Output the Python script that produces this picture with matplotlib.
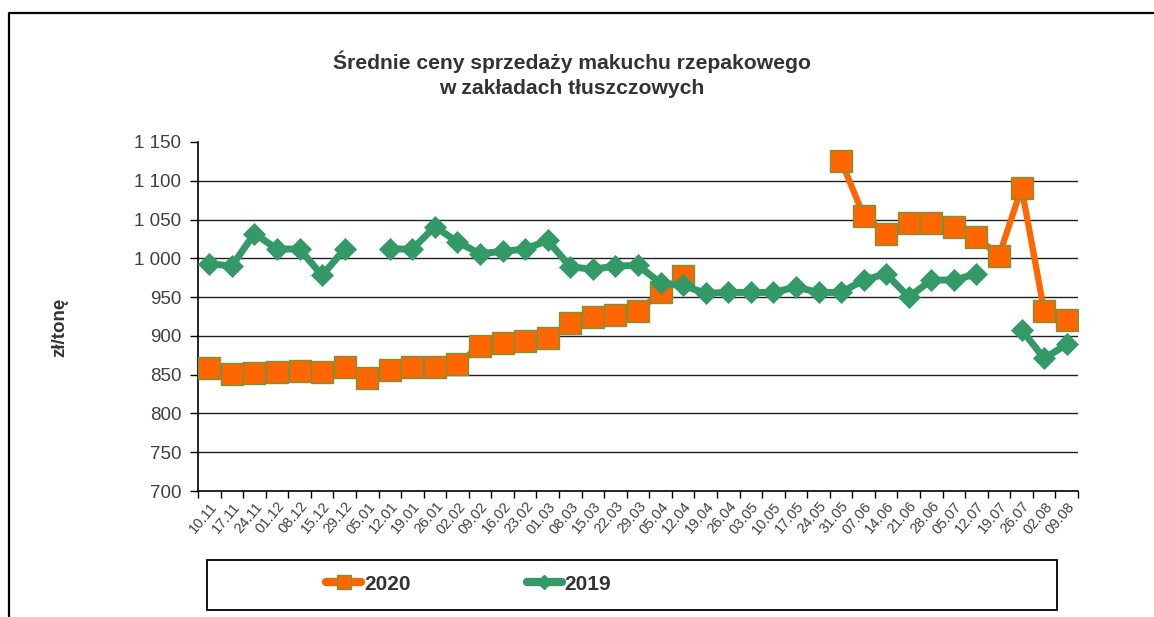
import matplotlib
matplotlib.use("Agg")
import matplotlib.pyplot as plt
from matplotlib.lines import Line2D
from matplotlib.patches import Rectangle
from matplotlib.ticker import FuncFormatter
import numpy as np

nan = float("nan")

weeks = ["10.11", "17.11", "24.11", "01.12", "08.12", "15.12", "29.12", "05.01",
         "12.01", "19.01", "26.01", "02.02", "09.02", "16.02", "23.02", "01.03",
         "08.03", "15.03", "22.03", "29.03", "05.04", "12.04", "19.04", "26.04",
         "03.05", "10.05", "17.05", "24.05", "31.05", "07.06", "14.06", "21.06",
         "28.06", "05.07", "12.07", "19.07", "26.07", "02.08", "09.08"]

prices_2020 = [859, 851, 852, 854, 855, 854, 860, 846, 856, 860, 860, 864,
               887, 891, 894, 897, 917, 924, 927, 932, 956, 977,
               nan, nan, nan, nan, nan, nan,
               1126, 1055, 1032, 1046, 1046, 1041, 1028, 1003, 1091, 932, 921]

prices_2019 = [993, 990, 1032, 1012, 1012, 978, 1012, nan, 1012, 1012, 1041, 1021,
               1006, 1009, 1012, 1023, 989, 986, 990, 991, 968, 965, 955, 956,
               956, 956, 963, 956, 956, 972, 980, 950, 972, 972, 980, nan,
               908, 871, 889]

series_labels = ["2020", "2019"]

ORANGE = "#FF6600"
GREEN = "#339966"
TEXT = "#404040"
FONT = ["Liberation Sans", "DejaVu Sans"]


def thousands(v, pos):
    return f"{v:,.0f}".replace(",", " ")


def main():
    plt.rcParams["font.family"] = FONT
    fig = plt.figure(figsize=(11.54, 6.17), dpi=100)
    W, H = 1154, 617

    # outer chart frame (only left and top edges are visible in the crop)
    fig.add_artist(Line2D([9 / W, 9 / W, 1.0], [0.0, 1 - 13 / H, 1 - 13 / H],
                          transform=fig.transFigure, color="black", lw=1.6))

    ax = fig.add_axes([198 / W, 1 - 491 / H, 880 / W, 349 / H])
    x = np.arange(len(weeks))

    ax.plot(x, prices_2020, color=ORANGE, lw=4.5, marker="s", ms=15.5,
            mfc=ORANGE, mec="#77933C", mew=1.0, label=series_labels[0], zorder=3)
    ax.plot(x, prices_2019, color=GREEN, lw=5, marker="D", ms=11.5,
            mfc=GREEN, mec=GREEN, mew=0.5, label=series_labels[1], zorder=4)

    ax.set_xlim(-0.5, len(weeks) - 0.5)
    ax.set_ylim(700, 1150)
    ax.set_yticks(np.arange(700, 1151, 50))
    ax.yaxis.set_major_formatter(FuncFormatter(thousands))
    for v in range(750, 1101, 50):
        ax.axhline(v, color="#222222", lw=1.0, zorder=1)

    ax.set_xticks(x)
    ax.set_xticklabels(weeks, rotation=50, ha="right", rotation_mode="anchor",
                       fontsize=10.5, color=TEXT)
    ax.set_xticks(np.arange(-0.5, len(weeks)), minor=True)
    ax.tick_params(axis="x", which="major", length=0, pad=6)
    ax.tick_params(axis="x", which="minor", length=5, width=1, color="black")
    ax.tick_params(axis="y", length=6, width=1, color="black", labelsize=13.5,
                   labelcolor=TEXT, pad=6)

    for side in ("top", "right"):
        ax.spines[side].set_visible(False)
    for side in ("left", "bottom"):
        ax.spines[side].set_color("black")
        ax.spines[side].set_linewidth(1.2)

    fig.text(60 / W, 1 - 327 / H, "zł/tonę", rotation=90, ha="center", va="center",
             fontsize=13.5, fontweight="bold", color="#333333")

    fig.text(572 / W, 1 - 62 / H, "Średnie ceny sprzedaży makuchu rzepakowego",
             ha="center", va="center", fontsize=15.2, fontweight="bold", color="#333333")
    fig.text(572 / W, 1 - 88 / H, "w zakładach tłuszczowych",
             ha="center", va="center", fontsize=15.2, fontweight="bold", color="#333333")

    # legend box
    fig.add_artist(Rectangle((207 / W, 1 - 610 / H), 850 / W, 50 / H,
                             transform=fig.transFigure, fill=False,
                             edgecolor="black", lw=1.3))
    handles = [
        Line2D([], [], color=ORANGE, lw=6, solid_capstyle="round", marker="s",
               ms=10, mfc=ORANGE, mec="#77933C", mew=1),
        Line2D([], [], color=GREEN, lw=6, solid_capstyle="round", marker="D",
               ms=7, mfc=GREEN, mec=GREEN),
    ]
    fsize = 15
    em = fsize * 100 / 72
    fig.legend(handles, series_labels, loc="center left",
               bbox_to_anchor=(326 / W, 1 - 584 / H),
               ncol=2, frameon=False, borderpad=0, borderaxespad=0,
               handlelength=35 / em, handletextpad=3 / em,
               columnspacing=116 / em,
               prop={"size": fsize, "weight": "bold"},
               labelcolor="#333333")

    fig.savefig("out.png", dpi=100)


if __name__ == "__main__":
    main()
